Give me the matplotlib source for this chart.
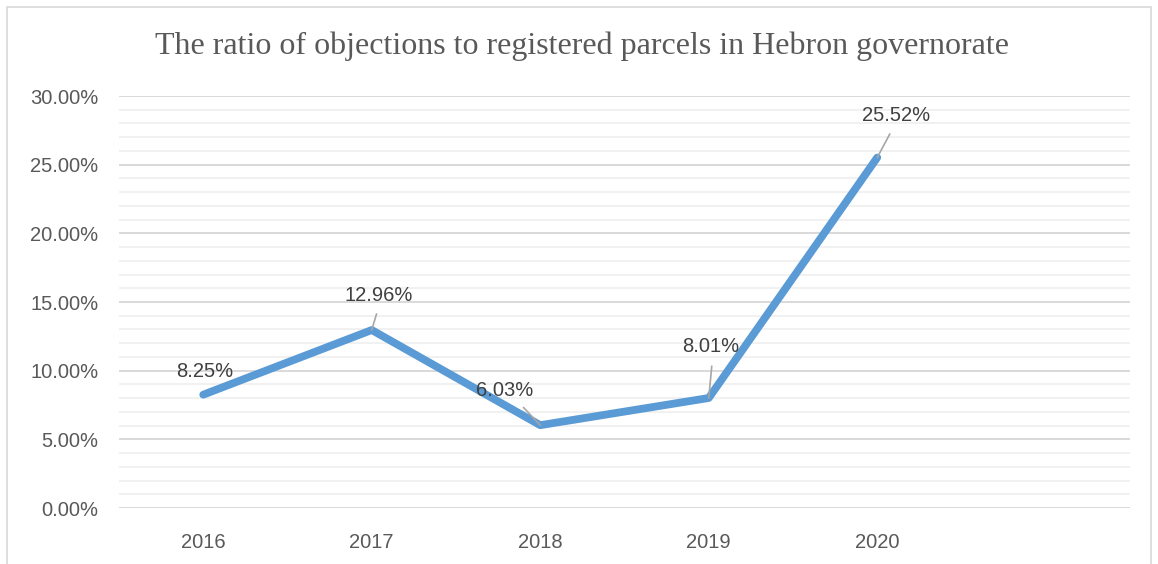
import matplotlib
matplotlib.use('Agg')
import matplotlib.pyplot as plt
from matplotlib.patches import Rectangle
from matplotlib.ticker import MultipleLocator, PercentFormatter

years = ['2016', '2017', '2018', '2019', '2020']
ratios = [8.25, 12.96, 6.03, 8.01, 25.52]
labels = ['8.25%', '12.96%', '6.03%', '8.01%', '25.52%']
# label offsets from the point (pixels), and whether a leader line is drawn
offsets = [(1, 23), (7, 35), (-36, 35), (2, 51), (19, 42)]
leaders = [False, True, True, True, True]

W, H = 1158, 564
fig = plt.figure(figsize=(W / 100, H / 100), dpi=100)
fig.patch.set_facecolor('white')
ax = fig.add_axes([119 / W, 1 - 508 / H, (1130 - 119) / W, (508 - 96) / H])

lab_font = 'Liberation Sans'
txt_col = '#595959'

x = list(range(len(years)))
ax.plot(x, ratios, color='#5B9BD5', lw=5.6, solid_capstyle='round',
        solid_joinstyle='round', zorder=3)

for i, (v, lab) in enumerate(zip(ratios, labels)):
    dx, dy = offsets[i]
    props = None
    if leaders[i]:
        props = dict(arrowstyle='-', color='#A6A6A6', lw=1.2, shrinkA=5, shrinkB=0,
                     relpos=(0.55, 0.5))
    ax.annotate(lab, xy=(i, v), xytext=(dx, dy), textcoords='offset pixels',
                ha='center', va='center', fontsize=14.5, family=lab_font,
                color='#404040', arrowprops=props, zorder=4)

ax.set_xlim(-0.5, len(years) + 0.5)
ax.set_ylim(0, 30)
ax.set_xticks(x)
ax.set_xticklabels(years)
ax.yaxis.set_major_locator(MultipleLocator(5))
ax.yaxis.set_minor_locator(MultipleLocator(1))
ax.yaxis.set_major_formatter(PercentFormatter(decimals=2))
ax.grid(axis='y', which='major', color='#D9D9D9', lw=1.4, zorder=0)
ax.grid(axis='y', which='minor', color='#EFEFEF', lw=1.2, zorder=0)
ax.set_axisbelow(True)
for s in ax.spines.values():
    s.set_visible(False)
ax.tick_params(axis='both', which='both', length=0)
ax.tick_params(axis='y', pad=15)
ax.tick_params(axis='x', pad=18)
for t in ax.get_xticklabels() + ax.get_yticklabels():
    t.set_fontfamily(lab_font)
    t.set_fontsize(14.5)
    t.set_color(txt_col)

fig.text(0.503, 1 - 46 / H, 'The ratio of objections to registered parcels in Hebron governorate',
         ha='center', va='center', fontsize=23, family='Liberation Serif', color=txt_col)

# chart frame
fig.patches.append(Rectangle((7 / W, -0.02), (1151 - 7) / W, 1 - 7 / H + 0.02,
                             transform=fig.transFigure, fill=False,
                             edgecolor='#D9D9D9', lw=1.2))

fig.savefig('out.png', dpi=100)
